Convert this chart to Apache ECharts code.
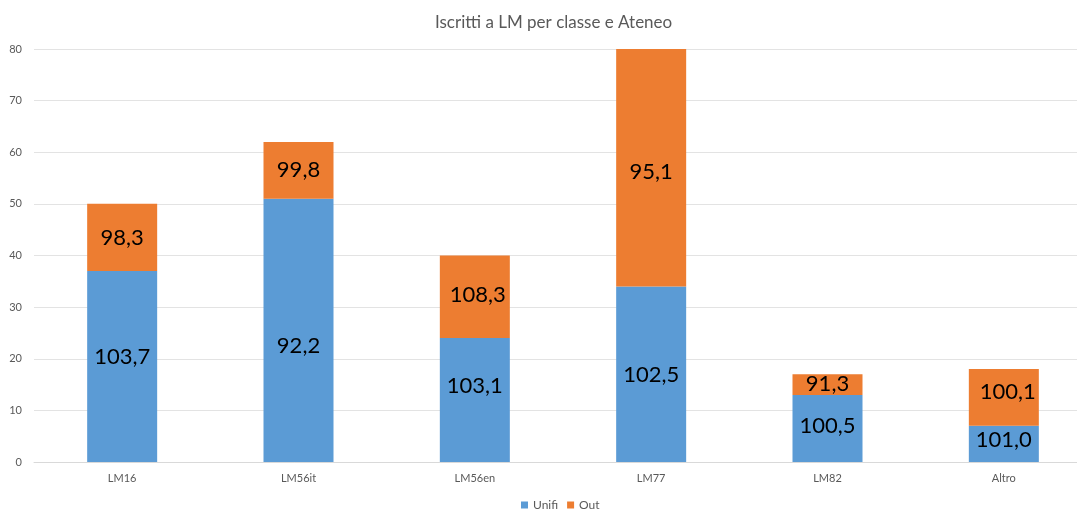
<!DOCTYPE html>
<html><head><meta charset="utf-8">
<script src="https://cdn.jsdelivr.net/npm/echarts@6/dist/echarts.min.js"></script>
<style>html,body{margin:0;padding:0;background:#fff}#c{width:1077px;height:509px}</style>
</head><body><div id="c"></div>
<script>
const categories = ['LM16','LM56it','LM56en','LM77','LM82','Altro'];
const unifi = [37, 51, 24, 34, 13, 7];
const out = [13, 11, 16, 46, 4, 11];
const unifiLabels = ['103,7','92,2','103,1','102,5','100,5','101,0'];
const outLabels = ['98,3','99,8','108,3','95,1','91,3','100,1'];
const yTicks = [0,10,20,30,40,50,60,70,80];

// label placement tweaks (Excel labels were moved by hand) – styling only
const unifiLabelShift = [[0,-10],[0,16],[0,-14],[0,1],[0,-3],[0,-4]];
const outLabelShift = [[0,0],[0,0],[3,-2],[0,4],[0,-1],[4,-6]];

const font = 'Lato, "Liberation Sans", sans-serif';
const chart = echarts.init(document.getElementById('c'), null, {renderer:'canvas'});
const mk = (vals, shifts) => vals.map((v,i) => ({value:v, label:{offset:shifts[i]}}));
const lbl = (arr) => ({show:true, position:'inside', color:'#000', fontSize:22, fontFamily:font,
  formatter: p => arr[p.dataIndex]});
chart.setOption({
  animation:false,
  title:{text:'Iscritti a LM per classe e Ateneo', left:435, top:14, padding:0,
    textStyle:{fontFamily:font, fontSize:17, fontWeight:'normal', color:'#595959'}},
  legend:{left:521, top:499, padding:0, itemWidth:7, itemHeight:7, itemGap:9, icon:'rect',
    textStyle:{fontFamily:font, fontSize:12, color:'#595959'}, data:['Unifi','Out']},
  grid:{left:34, top:49, width:1058, height:413, containLabel:false, outerBoundsMode:'none'},
  xAxis:{type:'category', data:categories,
    axisLine:{lineStyle:{color:'#d9d9d9'}}, axisTick:{show:false},
    axisLabel:{fontFamily:font, fontSize:11, color:'#595959', margin:11}},
  yAxis:{type:'value', min:yTicks[0], max:yTicks[yTicks.length-1], interval:10,
    axisLine:{show:false}, axisTick:{show:false},
    splitLine:{lineStyle:{color:'#e3e3e3'}},
    axisLabel:{fontFamily:font, fontSize:11, color:'#595959', margin:12}},
  series:[
    {name:'Unifi', type:'bar', stack:'a', data:mk(unifi, unifiLabelShift), barWidth:70,
     itemStyle:{color:'#5B9BD5'}, label:lbl(unifiLabels)},
    {name:'Out', type:'bar', stack:'a', data:mk(out, outLabelShift), barWidth:70,
     itemStyle:{color:'#ED7D31'}, label:lbl(outLabels)}
  ]
});
</script></body></html>
